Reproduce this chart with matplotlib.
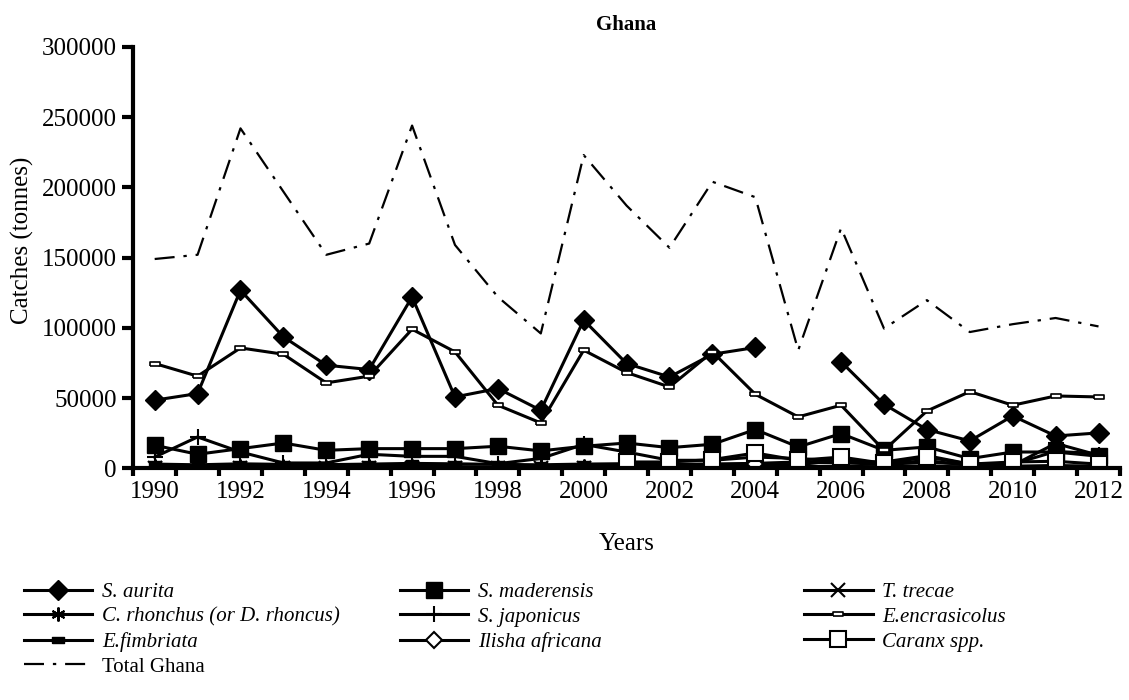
import matplotlib.pyplot as plt
import numpy as np

nan = np.nan
years = list(range(1990, 2013))

s_aurita = [48500, 53200, 126800, 93600, 73400, 70300, 122000, 50800, 56800, 41300, 105500, 74600,
            65000, 81200, 86000, nan, 75800, 45600, 27600, 19500, 37300, 23000, 25200]
s_maderensis = [16400, 10000, 14000, 18000, 12800, 14000, 14000, 14000, 15700, 12400, 15700, 18000,
                14700, 17100, 27600, 15200, 24700, 12800, 15200, 6900, 11600, 11600, 8600]
t_trecae = [400, 300, 500, 300, 200, 300, 400, 300, 500, 300, 200, 300,
            400, 300, 500, 300, 200, 300, 400, 300, 500, 300, 400]
c_rhonchus = [1500, 1200, 1800, 1300, 1100, 1400, 1600, 1200, 1000, 1300, 1500, 1700,
              1400, 1600, 1800, 1500, 1300, 1200, 1400, 1100, 1300, 1200, 1400]
s_japonicus = [8000, 22300, 11600, 3800, 3800, 10000, 8500, 8500, 3300, 7000, 17000, 11600,
               5700, 5700, 8000, 7000, 5000, 4500, 9000, 3000, 2000, 17700, 9300]
e_encrasicolus = [74600, 65600, 85700, 81200, 60800, 65600, 99000, 82900, 44900, 32300, 84100, 68200,
                  57900, 82900, 52700, 36600, 44900, 12800, 40800, 54600, 44900, 51500, 50800]
e_fimbriata = [3000, 2500, 3200, 2800, 2600, 3000, 3500, 3200, 2800, 2500, 3000, 3300,
               2900, 3100, 3500, 4500, 3800, 3000, 4000, 3200, 3000, 12000, 10500]
ilisha = [nan, nan, nan, nan, nan, nan, nan, nan, nan, nan, nan, 2500,
          2000, 2500, 3000, 2500, 6000, 3000, 5500, 2000, 1500, 2000, 1500]
caranx = [nan, nan, nan, nan, nan, nan, nan, nan, nan, nan, nan, 4500,
          4500, 6200, 10900, 5700, 8000, 3500, 8000, 3000, 4500, 5000, 3000]
total = [149000, 152000, 242000, 197000, 152000, 160000, 244000, 159000, 122000, 96000, 223000, 187000,
         157000, 204000, 193000, 84000, 171000, 99500, 119700, 97000, 102600, 107000, 101000]

plt.rcParams['font.family'] = ['Liberation Serif', 'DejaVu Serif']

fig = plt.figure(figsize=(11.29, 7), dpi=100)
ax = fig.add_axes([0.118, 0.331, 0.874, 0.602])

# small bar-shaped marker used for the two anchovy-like series
dash_marker = [(-1, -0.45), (1, -0.45), (1, 0.45), (-1, 0.45), (-1, -0.45)]
lw = 2.2
k = 'black'

h = {}
h['aurita'], = ax.plot(years, s_aurita, color=k, lw=lw, marker='D', ms=10, mfc=k, mec=k, label='S. aurita')
h['mader'], = ax.plot(years, s_maderensis, color=k, lw=lw, marker='s', ms=11, mfc=k, mec=k, label='S. maderensis')
h['trecae'], = ax.plot(years, t_trecae, color=k, lw=lw, marker='x', ms=10, mew=1.5, label='T. trecae')
h['rhon'], = ax.plot(years, c_rhonchus, color=k, lw=lw, marker=(6, 2, 0), ms=10, mew=1.5,
                     label='C. rhonchus (or D. rhoncus)')
h['jap'], = ax.plot(years, s_japonicus, color=k, lw=lw, marker='+', ms=12, mew=1.5, label='S. japonicus')
h['encr'], = ax.plot(years, e_encrasicolus, color=k, lw=lw, marker=dash_marker, ms=7, mfc='white', mec=k,
                     mew=1.2, label='E.encrasicolus')
h['fimb'], = ax.plot(years, e_fimbriata, color=k, lw=lw, marker=dash_marker, ms=9, mfc=k, mec=k,
                     label='E.fimbriata')
h['ilisha'], = ax.plot(years, ilisha, color=k, lw=lw, marker='D', ms=8, mfc='white', mec=k, mew=1.5,
                       label='Ilisha africana')
h['caranx'], = ax.plot(years, caranx, color=k, lw=lw, marker='s', ms=11, mfc='white', mec=k, mew=1.5,
                       label='Caranx spp.')
h['total'], = ax.plot(years, total, color=k, lw=1.6, dashes=(9, 4, 1.5, 4), label='Total Ghana')

ax.set_xlim(1989.5, 2012.5)
ax.set_ylim(0, 300000)
ax.set_yticks(np.arange(0, 300001, 50000))
ax.set_xticks(np.arange(1990, 2013, 2))
ax.set_xticks(np.arange(1989.5, 2013, 1), minor=True)
ax.tick_params(axis='x', which='major', length=0, labelsize=18, pad=9)
ax.tick_params(axis='x', which='minor', length=6, width=3, direction='out')
ax.tick_params(axis='y', which='major', length=8, width=3, direction='out', labelsize=18, pad=4)

for s in ['top', 'right']:
    ax.spines[s].set_visible(False)
for s in ['left', 'bottom']:
    ax.spines[s].set_linewidth(3)

ax.set_title('Ghana', fontsize=15, fontweight='bold', pad=12)
ax.set_ylabel('Catches (tonnes)', fontsize=18)
ax.yaxis.set_label_coords(-0.101, 0.54)
ax.set_xlabel('Years', fontsize=18, labelpad=22)

# legend: three columns as in the original layout
cols = [(['aurita', 'rhon', 'fimb', 'total'], 0.021),
        (['mader', 'jap', 'ilisha'], 0.354),
        (['trecae', 'encr', 'caranx'], 0.712)]
for keys, x0 in cols:
    leg = fig.legend([h[c] for c in keys], [h[c].get_label() for c in keys],
                     loc='upper left', bbox_to_anchor=(x0, 0.168), frameon=False,
                     fontsize=15, handlelength=3.3, handletextpad=0.45,
                     labelspacing=0.25, borderpad=0, borderaxespad=0)
    for t in leg.get_texts():
        if t.get_text() != 'Total Ghana':
            t.set_fontstyle('italic')

fig.savefig('out.png', dpi=100)
